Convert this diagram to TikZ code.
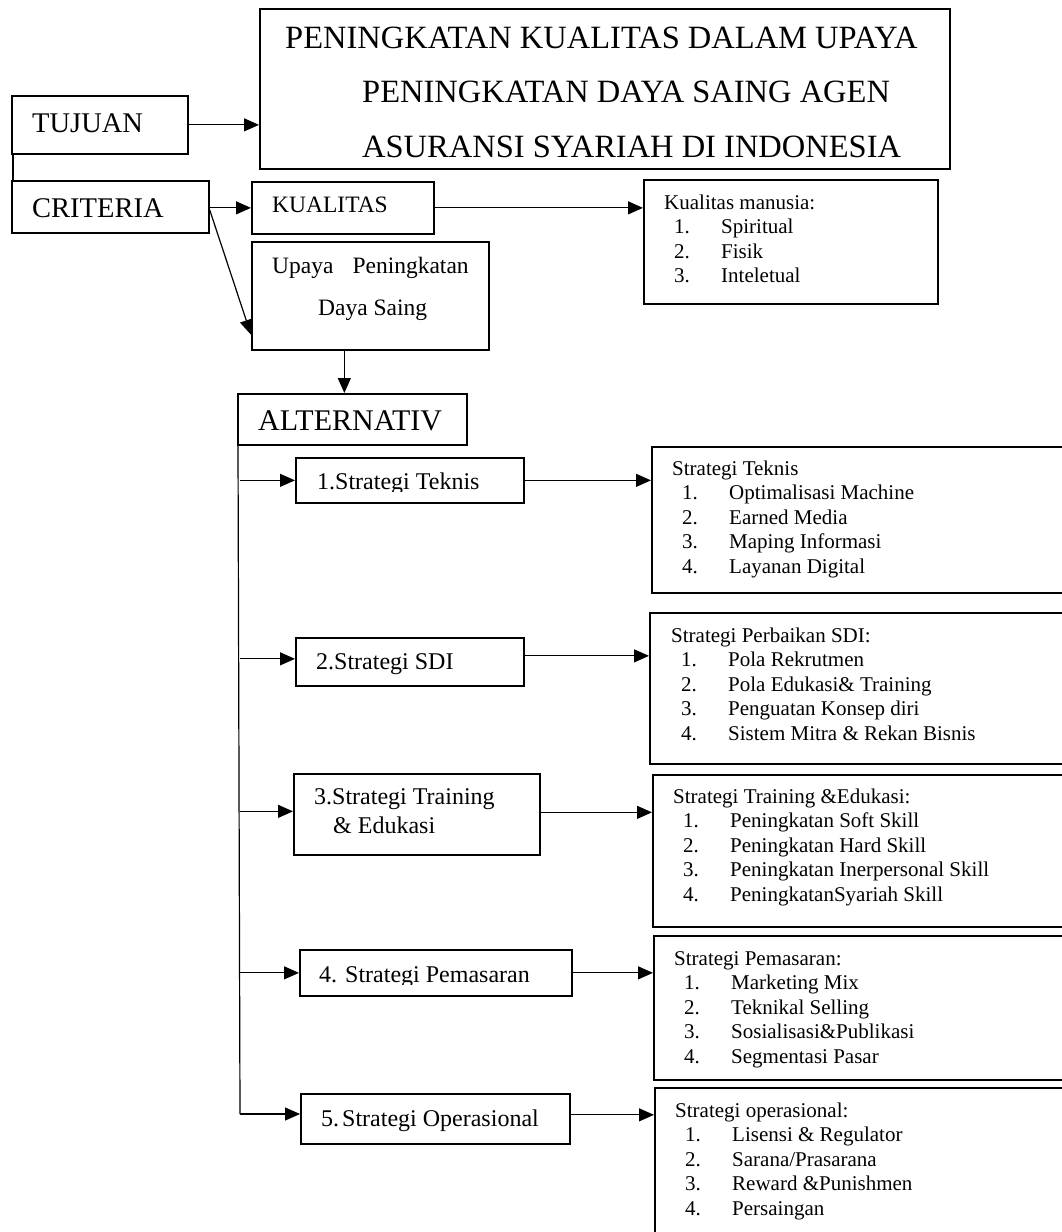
\documentclass[tikz,border=0pt]{standalone}
\usepackage{fontspec}
\setmainfont{Liberation Serif}
\usetikzlibrary{arrows.meta}

% font size helper (size = leading)
\newcommand\fsz[1]{\fontsize{#1}{#1}\selectfont}
% stacked list: heading line plus numbered rows
\newcommand\listbody[1]{\vtop{\baselineskip=24.6pt\lineskiplimit=-100pt #1}}
\newcommand\listhead[1]{\hbox{#1}}
\newcommand\listrow[2]{\hbox{\hspace*{10pt}\makebox[47pt][l]{#1}#2}}

\tikzset{
  box/.style={draw, line width=1.7pt, inner sep=0pt, anchor=north west},
  txt/.style={inner sep=0pt, anchor=base west},
  arr/.style={line width=1.2pt, -{Triangle[length=15pt,width=13pt]}},
  link/.style={line width=1.2pt},
  big/.style={font=\fsz{32.5}},
  head/.style={font=\fsz{28.5}},
  althead/.style={font=\fsz{30}},
  strat/.style={font=\fsz{24}},
  mid/.style={font=\fsz{23.5}},
  small/.style={font=\fsz{21}},
}

\begin{document}
\begin{tikzpicture}[x=1pt,y=-1pt]
\clip (0,0) rectangle (1062,1232);

% ---- goal ----
\node[box, minimum width=690pt, minimum height=160pt] (title) at (259,8) {};
\node[txt, big] (t1) at (285,48) {PENINGKATAN KUALITAS DALAM UPAYA};
\node[txt, big] (t2) at (362,102) {PENINGKATAN DAYA SAING AGEN};
\node[txt, big] (t3) at (362,157) {ASURANSI SYARIAH DI INDONESIA};

\node[box, minimum width=176pt, minimum height=58pt] (tujuan) at (11,95) {};
\node[txt, head] (tujuantxt) at (32,132) {TUJUAN};

% ---- criteria ----
\node[box, minimum width=197pt, minimum height=52pt] (criteria) at (11,180) {};
\node[txt, head] (criteriatxt) at (32,217) {CRITERIA};

\node[box, minimum width=182pt, minimum height=52pt] (kualitas) at (251,181) {};
\node[txt, mid] (kualitastxt) at (272,212) {KUALITAS};

\node[box, minimum width=294pt, minimum height=124pt] (manusia) at (643,179) {};
\node[txt, small] (manusiatxt) at (664,209) {\listbody{%
  \listhead{Kualitas manusia:}%
  \listrow{1.}{Spiritual}%
  \listrow{2.}{Fisik}%
  \listrow{3.}{Inteletual}}};

\node[box, minimum width=237pt, minimum height=108pt] (upaya) at (251,241) {};
\node[txt, mid] (upaya1) at (272,273) {Upaya\hspace{19pt}Peningkatan};
\node[txt, mid] (upaya2) at (318,315) {Daya Saing};

% ---- alternatives ----
\node[box, minimum width=229pt, minimum height=51pt] (alt) at (237,393) {};
\node[txt, althead] (alttxt) at (258,430) {ALTERNATIV};

\node[box, minimum width=228pt, minimum height=45pt] (s1) at (295,457) {};
\begin{scope}
  \clip (295,457) rectangle (523,491);
  \node[txt, strat] (s1txt) at (317,489) {1.Strategi Teknis};
\end{scope}

\node[box, minimum width=228pt, minimum height=48pt] (s2) at (295,637) {};
\node[txt, strat] (s2txt) at (316,669) {2.Strategi SDI};

\node[box, minimum width=246pt, minimum height=81pt] (s3) at (293,773) {};
\node[txt, strat] (s3a) at (314,804) {3.Strategi Training};
\node[txt, strat] (s3b) at (333,833) {\& Edukasi};

\node[box, minimum width=272pt, minimum height=46pt] (s4) at (299,949) {};
\begin{scope}
  \clip (299,949) rectangle (571,984);
  \node[txt, strat] (s4txt) at (319,982) {4. Strategi Pemasaran};
\end{scope}

\node[box, minimum width=269pt, minimum height=50pt] (s5) at (300,1093) {};
\node[txt, strat] (s5txt) at (321,1126) {5.\hspace{3pt}Strategi Operasional};

% ---- detail lists ----
\node[box, minimum width=449pt, minimum height=146pt] (r1) at (651,446) {};
\node[txt, small] (r1txt) at (672,475) {\listbody{%
  \listhead{Strategi Teknis}%
  \listrow{1.}{Optimalisasi Machine}%
  \listrow{2.}{Earned Media}%
  \listrow{3.}{Maping Informasi}%
  \listrow{4.}{Layanan Digital}}};

\node[box, minimum width=451pt, minimum height=151pt] (r2) at (649,612) {};
\node[txt, small] (r2txt) at (671,642) {\listbody{%
  \listhead{Strategi Perbaikan SDI:}%
  \listrow{1.}{Pola Rekrutmen}%
  \listrow{2.}{Pola Edukasi\& Training}%
  \listrow{3.}{Penguatan Konsep diri}%
  \listrow{4.}{Sistem Mitra \& Rekan Bisnis}}};

\node[box, minimum width=448pt, minimum height=152pt] (r3) at (652,774) {};
\node[txt, small] (r3txt) at (673,803) {\listbody{%
  \listhead{Strategi Training \&Edukasi:}%
  \listrow{1.}{Peningkatan Soft Skill}%
  \listrow{2.}{Peningkatan Hard Skill}%
  \listrow{3.}{Peningkatan Inerpersonal Skill}%
  \listrow{4.}{PeningkatanSyariah Skill}}};

\node[box, minimum width=447pt, minimum height=144pt] (r4) at (653,935) {};
\node[txt, small] (r4txt) at (674,965) {\listbody{%
  \listhead{Strategi Pemasaran:}%
  \listrow{1.}{Marketing Mix}%
  \listrow{2.}{Teknikal Selling}%
  \listrow{3.}{Sosialisasi\&Publikasi}%
  \listrow{4.}{Segmentasi Pasar}}};

\node[box, minimum width=446pt, minimum height=180pt] (r5) at (654,1087) {};
\node[txt, small] (r5txt) at (675,1117) {\listbody{%
  \listhead{Strategi operasional:}%
  \listrow{1.}{Lisensi \& Regulator}%
  \listrow{2.}{Sarana/Prasarana}%
  \listrow{3.}{Reward \&Punishmen}%
  \listrow{4.}{Persaingan}}};

% ---- connectors ----
\draw[arr] (tujuan.east) -- (tujuan.east -| title.west);
\draw[link] ([xshift=2pt]tujuan.south west) -- ([xshift=2pt]tujuan.south west |- criteria.north);
\draw[arr] ([yshift=-1pt]criteria.east) -- ([yshift=-1pt]criteria.east -| kualitas.west);
\draw[arr] (kualitas.east) -- (kualitas.east -| manusia.west);
\draw[arr] ([yshift=-3pt]criteria.east) -- ([yshift=16pt]upaya.south west);
\draw[arr] ([xshift=-8pt]alt.north |- upaya.south) -- ([xshift=-8pt]alt.north);

\coordinate (spineend) at (240,1114);
\draw[link] ([xshift=1pt]alt.south west) -- (spineend);
\draw[arr] (s1.west -| spineend) -- (s1.west);
\draw[arr] ([yshift=3pt]s2.west -| spineend) -- ([yshift=3pt]s2.west);
\draw[arr] ([yshift=3pt]s3.west -| spineend) -- ([yshift=3pt]s3.west);
\draw[arr] (s4.west -| spineend) -- (s4.west);
\draw[arr] (spineend) -- (spineend -| s5.west);

\draw[arr] (s1.east) -- (s1.east -| r1.west);
\draw[arr] ([yshift=6pt]s2.east) -- ([yshift=6pt]s2.east -| r2.west);
\draw[arr] ([yshift=2pt]s3.east) -- ([yshift=2pt]s3.east -| r3.west);
\draw[arr] (s4.east) -- (s4.east -| r4.west);
\draw[arr] ([yshift=4pt]s5.east) -- ([yshift=4pt]s5.east -| r5.west);
\end{tikzpicture}
\end{document}
